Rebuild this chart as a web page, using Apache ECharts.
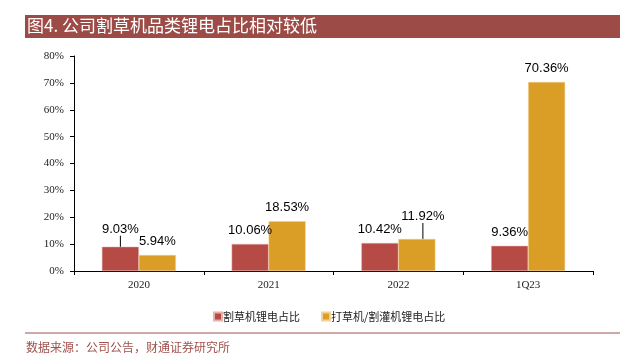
<!DOCTYPE html>
<html>
<head>
<meta charset="utf-8">
<script src="https://cdn.jsdelivr.net/npm/echarts@6/dist/echarts.min.js"></script>
<style>
html,body{margin:0;padding:0;background:#fff;}
#c{width:626px;height:357px;}
</style>
</head>
<body>
<div id="c"></div>
<script>
const categories = ['2020', '2021', '2022', '1Q23'];
const mowerLi = [9.03, 10.06, 10.42, 9.36];
const trimmerLi = [5.94, 18.53, 11.92, 70.36];
const seriesNames = ['割草机锂电占比', '打草机/割灌机锂电占比'];
const yTicks = { min: 0, max: 80, interval: 10 };

const titleText = '图4. 公司割草机品类锂电占比相对较低';
const sourceText = '数据来源：公司公告，财通证券研究所';

const chart = echarts.init(document.getElementById('c'), null, { renderer: 'canvas' });

const labelFont = { fontFamily: 'Liberation Sans', fontSize: 13, color: '#000' };

function buildData(vals, moved) {
  return vals.map((v, i) => {
    const item = { value: v };
    if (moved[i]) {
      item.labelLine = { show: true, lineStyle: { color: '#000', width: 1 } };
    }
    return item;
  });
}

chart.setOption({
  animation: false,
  backgroundColor: '#fff',
  graphic: [
    { type: 'rect', shape: { x: 25, y: 15, width: 595, height: 23 }, style: { fill: '#9C4B46' } },
    { type: 'text', left: 27, top: 17, style: { text: titleText, fill: '#fff', font: '17px "Noto Sans CJK SC"' } },
    { type: 'line', shape: { x1: 25, y1: 333, x2: 620, y2: 333 }, style: { stroke: '#A0524D', lineWidth: 1 } },
    { type: 'text', left: 26, top: 341, style: { text: sourceText, fill: '#A0524D', font: '12px "Noto Sans CJK SC"' } }
  ],
  legend: {
    left: 208,
    top: 306,
    itemWidth: 8,
    itemHeight: 8,
    itemGap: 21,
    icon: 'rect',
    textStyle: { fontFamily: 'Noto Sans CJK SC', fontSize: 11, color: '#222', padding: [0, 0, 0, -4] },
    data: seriesNames
  },
  grid: { left: 74, right: 33, top: 56, bottom: 86, containLabel: false },
  xAxis: {
    type: 'category',
    data: categories,
    axisLine: { lineStyle: { color: '#000', width: 1 } },
    axisTick: { show: true, inside: false, length: 4, lineStyle: { color: '#000' } },
    axisLabel: { fontFamily: 'Liberation Serif', fontSize: 11, color: '#222', margin: 9 }
  },
  yAxis: {
    type: 'value',
    min: yTicks.min,
    max: yTicks.max,
    interval: yTicks.interval,
    splitLine: { show: false },
    axisLine: { show: true, lineStyle: { color: '#000', width: 1 } },
    axisTick: { show: true, length: 4, lineStyle: { color: '#000' } },
    axisLabel: { formatter: '{value}%', fontFamily: 'Liberation Serif', fontSize: 11, color: '#222', margin: 10 }
  },
  series: [
    {
      name: seriesNames[0],
      type: 'bar',
      data: buildData(mowerLi, [true, false, false, false]),
      barWidth: 37,
      barGap: '0%',
      itemStyle: { color: '#B64A45', borderColor: '#E8B0AA', borderWidth: 0.5 },
      label: { show: true, position: 'top', distance: 7, formatter: p => p.value.toFixed(2) + '%', ...labelFont },
      labelLayout: p => (p.dataIndex === 0 ? { dy: -4 } : {})
    },
    {
      name: seriesNames[1],
      type: 'bar',
      data: buildData(trimmerLi, [false, false, true, false]),
      barWidth: 37,
      barGap: '0%',
      itemStyle: { color: '#DA9D25', borderColor: '#F0D29A', borderWidth: 0.5 },
      label: { show: true, position: 'top', distance: 7, formatter: p => p.value.toFixed(2) + '%', ...labelFont },
      labelLayout: p => (p.dataIndex === 2 ? { dx: 6, dy: -9 } : {})
    }
  ]
});
</script>
</body>
</html>
